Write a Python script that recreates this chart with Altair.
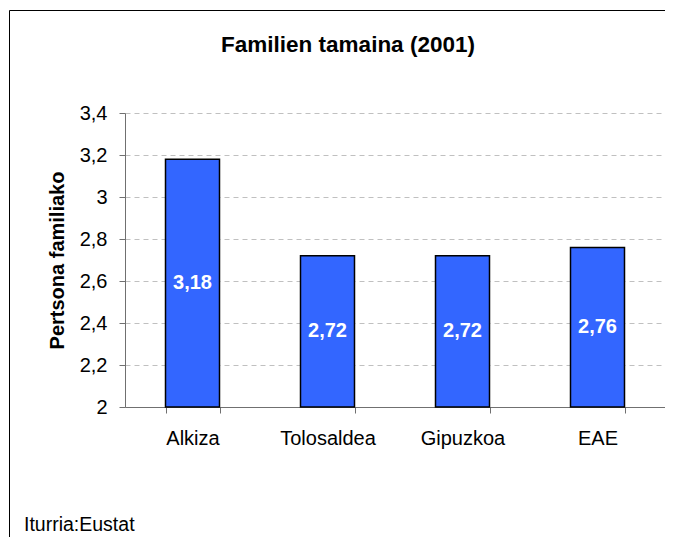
import altair as alt
import pandas as pd

categories = ["Alkiza", "Tolosaldea", "Gipuzkoa", "EAE"]
values = [3.18, 2.72, 2.72, 2.76]
value_labels = ["3,18", "2,72", "2,72", "2,76"]
y_ticks = [2.0, 2.2, 2.4, 2.6, 2.8, 3.0, 3.2, 3.4]
title_text = "Familien tamaina (2001)"
y_title = "Pertsona familiako"
source_text = "Iturria:Eustat"

FONT = "Liberation Sans"

df = pd.DataFrame({"cat": categories, "val": values, "lab": value_labels})

x_enc = alt.X(
    "cat:N",
    sort=categories,
    scale=alt.Scale(paddingInner=0.6, paddingOuter=0.3),
    axis=alt.Axis(
        title=None, labelAngle=0, tickBand="extent", tickSize=6,
        labelPadding=15, labelFontSize=20, labelFont=FONT, labelColor="black",
        domainColor="#707070", tickColor="#707070", grid=False,
    ),
)

bars = alt.Chart(df).mark_bar(
    fill="#3366FF", stroke="black", strokeWidth=1.5
).encode(
    x=x_enc,
    y=alt.Y(
        "val:Q",
        scale=alt.Scale(domain=[2, 3.4], nice=False, zero=False),
        axis=alt.Axis(
            values=y_ticks, title=y_title,
            labelExpr="replace(format(datum.value, '.1~f'), '.', ',')",
            labelFontSize=20, labelFont=FONT, labelColor="black",
            tickSize=6, labelPadding=12,
            domainColor="#707070", tickColor="#707070",
            grid=True, gridColor="#c0c0c0", gridDash=[5, 4], gridWidth=1,
            titleFont=FONT, titleFontSize=20, titleFontWeight="bold",
            titleColor="black", titleX=-68, titleY=147, titleAngle=270,
            titleAlign="center", titleBaseline="middle",
        ),
    ),
    y2=alt.datum(2),
)

labels = alt.Chart(df).transform_calculate(
    mid="(datum.val + 2) / 2"
).mark_text(
    color="white", fontWeight="bold", fontSize=20, font=FONT, baseline="middle"
).encode(
    x=alt.X("cat:N", sort=categories),
    y=alt.Y("mid:Q"),
    text="lab:N",
)

one = pd.DataFrame({"t": [source_text], "h": [title_text]})

frame_left = alt.Chart(one).mark_rule(color="black", strokeWidth=1).encode(
    x=alt.value(-115.5), y=alt.value(-102.5), y2=alt.value(430)
)
frame_top = alt.Chart(one).mark_rule(color="black", strokeWidth=1).encode(
    y=alt.value(-102.5), x=alt.value(-115.5), x2=alt.value(545)
)
source = alt.Chart(one).mark_text(
    align="left", baseline="alphabetic", fontSize=19.5, font=FONT, color="black"
).encode(
    x=alt.value(-101), y=alt.value(418), text="t:N"
)
title = alt.Chart(one).mark_text(
    align="center", baseline="middle", fontSize=22.5, fontWeight="bold",
    font=FONT, color="black"
).encode(
    x=alt.value(223), y=alt.value(-68), text="h:N"
)

chart = alt.layer(bars, labels, frame_left, frame_top, source, title).properties(
    width=540,
    height=294,
    autosize=alt.AutoSizeParams(type="none"),
    padding={"left": 117, "top": 105, "right": 0, "bottom": 130},
    background="white",
).configure_view(stroke=None)

chart.save("out.html", embed_options={"renderer": "svg", "actions": False})
